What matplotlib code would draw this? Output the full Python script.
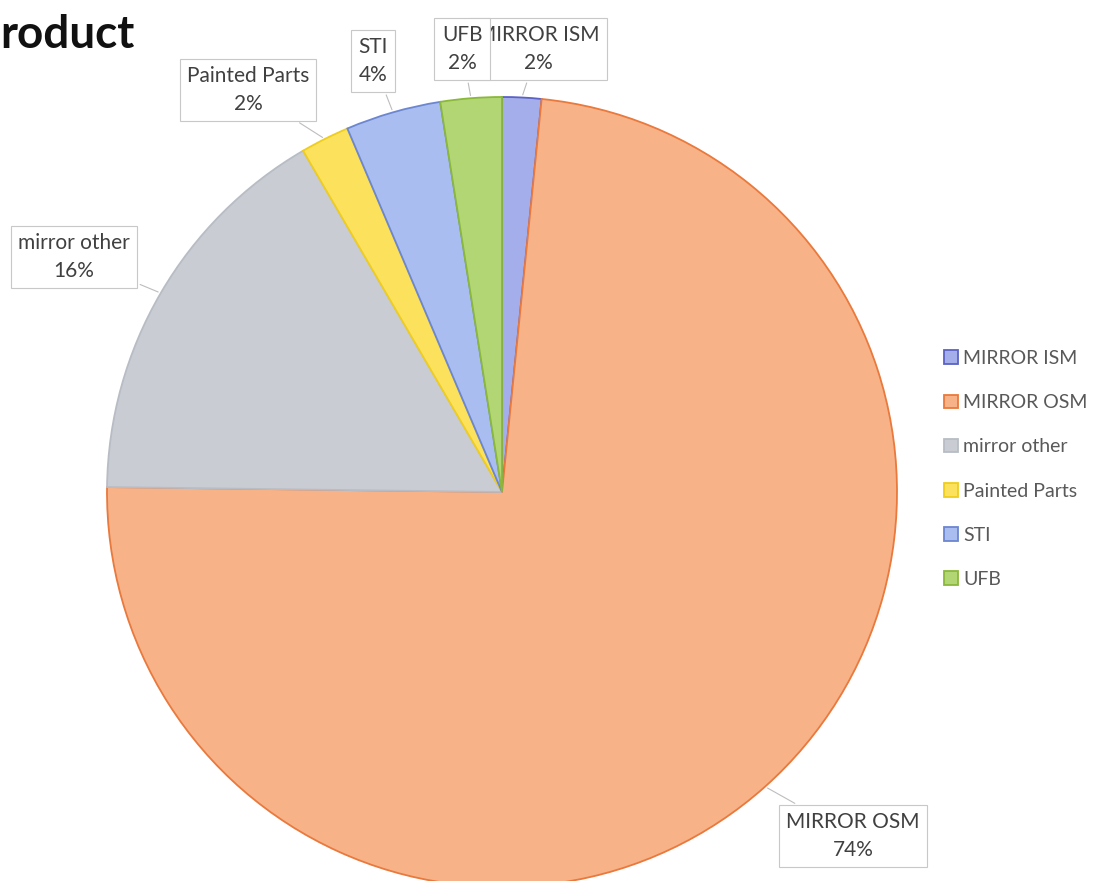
import numpy as np
import matplotlib
matplotlib.use("Agg")
import matplotlib.pyplot as plt

plt.rcParams['font.family'] = ['Lato', 'DejaVu Sans']

# Slice data (clockwise from 12 o'clock)
names = ["MIRROR ISM", "MIRROR OSM", "mirror other", "Painted Parts", "STI", "UFB"]
shares = [1.6, 73.6, 16.4, 2.0, 3.9, 2.5]
fills = ["#a4aeea", "#f8b288", "#c9ccd3", "#fbe15c", "#a9bdf0", "#b3d675"]
edges = ["#5b62c4", "#e9793c", "#b8bcc4", "#efcd1c", "#6c86d0", "#8ab83a"]

# Data label box centres, pixel coordinates of the image (x, y from top)
label_pos = [(538, 49), (853, 836), (74, 257), (248, 90), (373, 61), (462, 49)]

W, H = 1098, 881
fig = plt.figure(figsize=(W / 100, H / 100), dpi=100)
ax = fig.add_axes([0, 0, 1, 1])

cx, cy, R = 502, H - 492, 395
wedges, _ = ax.pie(shares, colors=fills, startangle=90, counterclock=False,
                   center=(cx, cy), radius=R,
                   wedgeprops=dict(linewidth=1.3))
for w, ec in zip(wedges, edges):
    w.set_edgecolor(ec)

# Data labels with leader lines (UFB box sits on top of the ISM box, as in the original)
for i, (w, name, v) in enumerate(zip(wedges, names, shares)):
    mid = np.deg2rad((w.theta1 + w.theta2) / 2)
    px = cx + R * np.cos(mid)
    py = cy + R * np.sin(mid)
    lx, ly = label_pos[i]
    ax.annotate(f"{name}\n{round(v)}%", xy=(px, py), xytext=(lx, H - ly),
                ha="center", va="center", fontsize=15, color="#404040",
                linespacing=1.45, zorder=5 + i,
                bbox=dict(boxstyle="square,pad=0.35", fc="white",
                          ec="#c8c8c8", lw=0.8),
                arrowprops=dict(arrowstyle="-", color="#bdbdbd", lw=0.8))

ax.legend(wedges, names, loc="upper left", bbox_to_anchor=(944 / W, 1 - 350 / H),
          bbox_transform=fig.transFigure, frameon=False, fontsize=14,
          labelcolor="#595959", handlelength=0.7, handleheight=0.7,
          handletextpad=0.3, labelspacing=1.4, borderpad=0, borderaxespad=0)

ax.text(0, H - 35, "roduct", fontsize=33, fontweight="bold", color="#111111",
        ha="left", va="center")

ax.set_xlim(0, W)
ax.set_ylim(0, H)
ax.set_aspect("equal")
ax.axis("off")

plt.savefig("out.png", dpi=100)
